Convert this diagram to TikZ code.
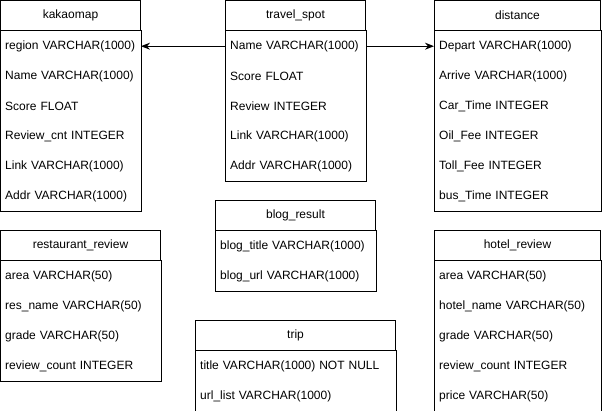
\documentclass[tikz,border=0pt]{standalone}
\usepackage{fontspec}
\setmainfont{Liberation Sans}
\usepackage{tikz}
\usetikzlibrary{arrows.meta,positioning}

\tikzset{
  tblhead/.style={draw=black, line width=1pt, minimum height=30pt, inner sep=0pt,
                  font=\fontsize{12}{14}\selectfont},
  tblrow/.style={minimum height=30pt, inner xsep=5pt, inner ysep=0pt, align=left,
                 font=\fontsize{12}{14}\selectfont, anchor=north west},
  tblbody/.style={draw=black, line width=1pt},
  link/.style={-{Stealth[length=9pt,width=7pt]}, line width=1pt}
}

\begin{document}
\begin{tikzpicture}[x=1pt, y=-1pt]

  \useasboundingbox (0,0) rectangle (605,411);

  % top row of tables
  \node[tblhead, minimum width=140pt] (kakao) at (70.5,15.5) {kakaomap};
  \foreach \f [count=\i] in {region VARCHAR(1000), Name VARCHAR(1000), Score FLOAT,
                             Review\_cnt INTEGER, Link VARCHAR(1000), Addr VARCHAR(1000)}
    \node[tblrow, text width=130pt, yshift={-30*(\i-1)}] (kakao-\i) at (kakao.south west) {\f};
  \draw[tblbody] (kakao.south west) rectangle (kakao.south east |- kakao-6.south);

  \node[tblhead, minimum width=140pt] (spot) at (295.5,15.5) {travel\_spot};
  \foreach \f [count=\i] in {Name VARCHAR(1000), Score FLOAT, Review INTEGER,
                             Link VARCHAR(1000), Addr VARCHAR(1000)}
    \node[tblrow, text width=130pt, yshift={-30*(\i-1)}] (spot-\i) at (spot.south west) {\f};
  \draw[tblbody] (spot.south west) rectangle (spot.south east |- spot-5.south);

  \node[tblhead, minimum width=166pt] (dist) at (517.5,15.5) {distance};
  \foreach \f [count=\i] in {Depart VARCHAR(1000), Arrive VARCHAR(1000), Car\_Time INTEGER,
                             Oil\_Fee INTEGER, Toll\_Fee INTEGER, bus\_Time INTEGER}
    \node[tblrow, text width=156pt, yshift={-30*(\i-1)}] (dist-\i) at (dist.south west) {\f};
  \draw[tblbody] (dist.south west) rectangle (dist.south east |- dist-6.south);

  % lower tables
  \node[tblhead, minimum width=160pt] (resto) at (80.5,245.5) {restaurant\_review};
  \foreach \f [count=\i] in {area VARCHAR(50), res\_name VARCHAR(50), grade VARCHAR(50),
                             review\_count INTEGER}
    \node[tblrow, text width=150pt, yshift={-30*(\i-1)}] (resto-\i) at (resto.south west) {\f};
  \draw[tblbody] (resto.south west) rectangle (resto.south east |- resto-4.south);

  \node[tblhead, minimum width=160pt] (blog) at (295.5,215.5) {blog\_result};
  \foreach \f [count=\i] in {blog\_title VARCHAR(1000), blog\_url VARCHAR(1000)}
    \node[tblrow, text width=150pt, yshift={-30*(\i-1)}] (blog-\i) at (blog.south west) {\f};
  \draw[tblbody] (blog.south west) rectangle (blog.south east |- blog-2.south);

  \node[tblhead, minimum width=200pt] (trip) at (295.5,335.5) {trip};
  \foreach \f [count=\i] in {title VARCHAR(1000) NOT NULL, url\_list VARCHAR(1000)}
    \node[tblrow, text width=190pt, yshift={-30*(\i-1)}] (trip-\i) at (trip.south west) {\f};
  \draw[tblbody] (trip.south west) rectangle (trip.south east |- trip-2.south);

  \node[tblhead, minimum width=166pt] (hotel) at (517.5,245.5) {hotel\_review};
  \foreach \f [count=\i] in {area VARCHAR(50), hotel\_name VARCHAR(50), grade VARCHAR(50),
                             review\_count INTEGER, price VARCHAR(50)}
    \node[tblrow, text width=156pt, yshift={-30*(\i-1)}] (hotel-\i) at (hotel.south west) {\f};
  \draw[tblbody] (hotel.south west) rectangle (hotel.south east |- hotel-5.south);

  % links from travel_spot
  \draw[link] (spot-1.west) -- (spot-1.west -| kakao.east);
  \draw[link] (spot-1.west -| spot.east) -- (dist-1.west);

\end{tikzpicture}
\end{document}
